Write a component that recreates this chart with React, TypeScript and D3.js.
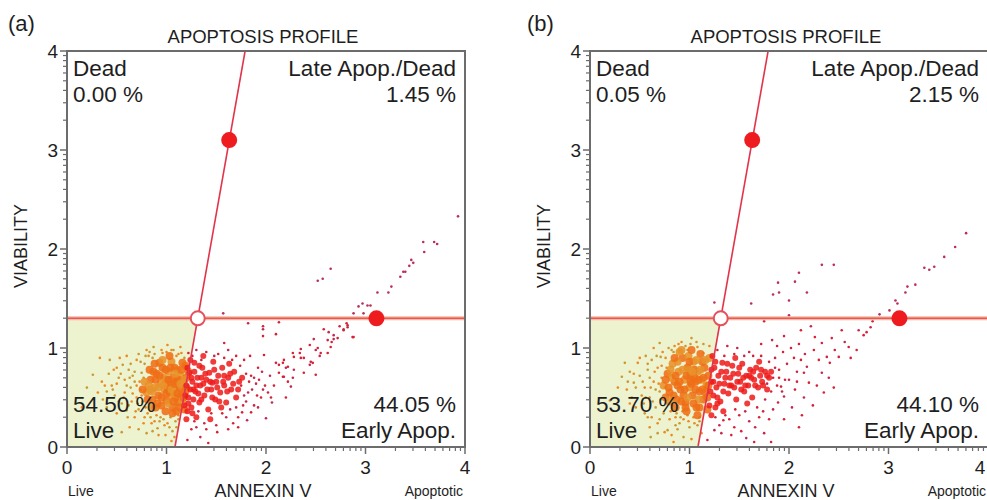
import * as d3 from "d3";

// quadrant texts, panel (a) then (b)
const panelLabels = ["(a)", "(b)"];
const deadPct = ["0.00 %", "0.05 %"];
const latePct = ["1.45 %", "2.15 %"];
const livePct = ["54.50 %", "53.70 %"];
const earlyPct = ["44.05 %", "44.10 %"];
const axisTicks = [0, 1, 2, 3, 4];

// gate settings (same on both panels)
const gateY = 1.3;
const slantLine = [[1.085, 0], [1.79, 4]];
const gateHandles = [[1.63, 3.1], [3.11, 1.3]];

// ---- panel (a) events
const liveCoreA = [[0.80,0.55],[0.84,0.68],[0.86,0.48],[0.88,0.60],[0.90,0.74],[0.92,0.52],[0.94,0.64],[0.95,0.42],[0.96,0.80],[0.98,0.58],[1.00,0.68],[1.00,0.47],[1.02,0.76],[1.03,0.55],[1.04,0.63],[1.05,0.86],[1.06,0.40],[1.07,0.70],[1.08,0.58],[1.09,0.50],[1.10,0.66],[1.11,0.78],[1.12,0.45],[1.13,0.60],[1.14,0.72],[1.15,0.53],[1.16,0.85],[1.17,0.64],[1.18,0.38],[1.19,0.56],[0.82,0.62],[0.87,0.76],[0.91,0.44],[0.97,0.70],[0.99,0.36],[1.01,0.60],[1.06,0.52],[1.08,0.80],[1.12,0.68],[1.16,0.46],[0.93,0.85],[1.03,0.92],[0.85,0.40],[1.10,0.36],[1.20,0.70],
  [0.78,0.66],[0.81,0.48],[0.83,0.78],[0.86,0.56],[0.89,0.68],[0.89,0.40],[0.92,0.60],[0.93,0.72],[0.95,0.50],[0.97,0.62],[0.99,0.78],[1.00,0.54],[1.02,0.44],[1.02,0.68],[1.04,0.80],[1.05,0.58],[1.07,0.46],[1.08,0.64],[1.09,0.74],[1.11,0.54],[1.13,0.40],[1.14,0.64],[1.15,0.78],[1.17,0.50],[1.18,0.68],[1.19,0.82],[1.20,0.60],[0.96,0.88],[1.06,0.34],[0.88,0.84],[0.84,0.58],[0.76,0.58],[1.22,0.76]];
const liveScatterA = [[0.26,0.73],[0.33,0.90],[0.43,0.88],[0.53,0.90],[0.56,0.83],[0.31,0.55],[0.40,0.40],[0.50,0.34],[0.60,0.37],[0.80,0.98],[0.87,1.01],[1.01,1.03],[1.07,0.98],[1.14,1.01],[0.61,0.30],[0.77,0.24],[0.91,0.19],[1.01,0.24],[0.80,0.14],[0.45,0.62],[0.52,0.70],[0.58,0.55],[0.62,0.78],[0.65,0.46],[0.68,0.66],[0.70,0.88],[0.72,0.38],[0.74,0.58],[0.75,0.75],[0.78,0.30],[0.64,0.60],[0.70,0.50],[0.72,0.94],[0.76,0.46],[0.78,0.84],[0.82,0.92],[0.84,0.30],[0.88,0.26],[0.94,0.30],[0.96,0.95],[1.04,0.30],[1.10,0.92],[1.12,0.28],[1.15,0.95],[0.66,0.72],[0.58,0.68],[0.48,0.52],[0.38,0.62],[0.55,0.44],[0.68,0.30],[0.86,0.90],[0.98,0.22],[1.06,0.16],[0.92,0.12],[1.18,0.90],[0.60,0.92],[0.42,0.74],[0.50,0.80],[0.36,0.48],[0.63,0.20],[0.72,0.18],[1.08,0.10],[0.20,0.60],[0.15,0.40],[0.55,0.15],[1.05,0.06],
  [0.46,0.58],[0.50,0.64],[0.54,0.74],[0.57,0.50],[0.60,0.62],[0.62,0.42],[0.64,0.84],[0.66,0.54],[0.68,0.76],[0.70,0.62],[0.71,0.44],[0.73,0.66],[0.74,0.86],[0.75,0.52],[0.77,0.70],[0.79,0.40],[0.79,0.92],[0.81,0.34],[0.83,0.96],[0.85,0.24],[0.88,0.94],[0.90,0.32],[0.93,0.26],[0.95,0.98],[0.97,0.28],[1.00,0.96],[1.03,0.20],[1.05,0.98],[1.09,0.26],[1.12,0.94],[1.10,0.20],[1.12,0.32],[0.52,0.46],[0.47,0.78],[0.40,0.56],[0.35,0.66],[0.63,0.70],[0.69,0.36],[0.86,0.16],[0.99,0.12]];
const earlyCoreA = [[1.20,0.62],[1.22,0.50],[1.23,0.75],[1.25,0.40],[1.26,0.66],[1.28,0.85],[1.29,0.56],[1.31,0.70],[1.33,0.45],[1.34,0.62],[1.36,0.80],[1.38,0.52],[1.40,0.68],[1.42,0.38],[1.43,0.75],[1.45,0.58],[1.47,0.86],[1.49,0.48],[1.50,0.66],[1.52,0.72],[1.54,0.55],[1.56,0.80],[1.58,0.62],[1.60,0.45],[1.62,0.70],[1.65,0.58],[1.68,0.76],[1.70,0.50],[1.73,0.66],[1.24,0.88],[1.30,0.30],[1.37,0.92],[1.44,0.28],[1.55,0.40],[1.63,0.84],[1.21,0.36],[1.27,0.58],[1.35,0.70],[1.46,0.65],[1.58,0.72],
  [1.21,0.80],[1.22,0.44],[1.24,0.58],[1.25,0.70],[1.27,0.48],[1.28,0.76],[1.30,0.62],[1.32,0.54],[1.33,0.82],[1.35,0.48],[1.37,0.64],[1.39,0.74],[1.41,0.58],[1.44,0.66],[1.46,0.50],[1.48,0.78],[1.51,0.60],[1.53,0.46],[1.57,0.66],[1.61,0.56],[1.64,0.74],[1.67,0.64],[1.72,0.58],[1.76,0.70],[1.19,0.52],[1.18,0.42],[1.20,0.28],[1.26,0.34]];
const earlyScatterA = [[1.81,0.27],[1.67,0.24],[1.51,0.15],[1.34,0.10],[1.21,0.07],[1.42,0.04],[2.00,0.29],[2.20,0.50],[1.98,0.93],[1.82,0.55],[1.85,0.72],[1.88,0.42],[1.90,0.64],[1.92,0.80],[1.95,0.50],[1.97,0.58],[1.78,0.88],[1.76,0.35],[1.80,0.46],[1.84,0.92],[1.72,0.20],[1.60,0.30],[1.50,0.22],[1.40,0.18],[1.30,0.20],[1.25,0.18],[1.22,0.95],[1.30,0.98],[1.40,0.96],[1.52,0.94],[1.62,0.98],[1.70,0.92],[1.58,1.05],[2.04,0.72],[2.08,0.62],[2.10,0.85],[2.06,0.45],[2.13,0.83],[2.22,0.81],[2.28,0.78],[2.17,0.71],[2.22,0.66],[2.25,0.61],[2.28,0.91],[2.35,0.90],[2.45,0.86],[2.18,0.88],[2.17,0.85],[2.20,0.80],[2.13,0.75],[2.18,0.71],[2.27,0.70],[2.50,0.73],[2.38,0.75],[2.44,0.83],[2.47,0.85],[2.38,0.90],[2.35,0.99],[2.34,0.95],[2.27,0.95],[2.50,0.98],[2.55,0.95],[2.65,1.01],[2.48,1.09],[2.44,1.03],[2.52,1.00],[2.54,0.92],[2.62,0.95],[2.62,1.08],[2.68,1.09],[2.66,1.06],[2.88,1.11],[2.68,1.13],[2.72,1.10],[2.87,1.11],[2.78,1.18],[2.82,1.23],[2.58,1.19],[2.63,1.16],[2.74,1.22],[2.78,1.19],[2.82,1.21],[2.81,1.25],[1.97,1.22],[1.97,1.19],[1.97,1.12],[2.10,1.14],[1.82,1.25],[2.13,1.26],
  [1.75,0.62],[1.78,0.52],[1.80,0.74],[1.83,0.66],[1.86,0.58],[1.74,0.82],[1.77,0.42],[1.88,0.70],[1.91,0.52],[1.93,0.68],[1.96,0.76],[1.99,0.62],[2.02,0.55],[1.70,0.40],[1.66,0.88],[1.58,0.90],[1.48,0.92],[1.35,0.88],[1.26,0.92],[1.32,0.36],[1.45,0.34],[1.56,0.34],[1.64,0.38],[1.72,0.30],[1.28,0.26],[1.38,0.24],[1.62,0.18],[1.85,0.35],[1.92,0.40],[2.05,0.50]];
const tailA = [[3.93,2.33],[3.58,2.07],[3.69,2.07],[3.72,2.05],[3.59,1.97],[3.46,1.89],[3.48,1.86],[3.44,1.83],[3.38,1.77],[3.40,1.77],[3.35,1.72],[3.26,1.62],[3.23,1.56],[3.12,1.56],[2.65,1.80],[2.57,1.70],[2.52,1.68],[2.97,1.45],[3.02,1.43],[2.93,1.42],[2.88,1.35],[2.98,1.35],[3.05,1.43],[1.57,1.35]];

// ---- panel (b) events
const liveCoreB = [[0.74,0.62],[0.78,0.74],[0.80,0.55],[0.83,0.84],[0.85,0.66],[0.87,0.48],[0.89,0.76],[0.91,0.58],[0.93,0.90],[0.95,0.68],[0.96,0.45],[0.98,0.80],[1.00,0.60],[1.01,0.72],[1.03,0.52],[1.04,0.86],[1.06,0.66],[1.07,0.40],[1.08,0.76],[1.10,0.56],[1.11,0.94],[1.12,0.68],[1.14,0.48],[1.15,0.80],[1.17,0.62],[1.18,0.38],[1.19,0.72],[0.82,0.70],[0.88,0.62],[0.94,0.52],[0.99,0.92],[1.02,0.64],[1.05,0.78],[1.09,0.48],[1.13,0.86],[1.16,0.55],[0.90,0.96],[0.86,0.40],[0.97,0.36],[1.20,0.90],[0.76,0.50],[1.05,0.70],[1.00,0.78],
  [0.76,0.68],[0.79,0.60],[0.81,0.78],[0.84,0.52],[0.86,0.72],[0.88,0.86],[0.90,0.66],[0.92,0.46],[0.93,0.78],[0.95,0.58],[0.97,0.72],[0.98,0.50],[1.00,0.86],[1.01,0.66],[1.03,0.76],[1.04,0.44],[1.06,0.58],[1.07,0.88],[1.09,0.68],[1.10,0.40],[1.11,0.78],[1.13,0.58],[1.14,0.70],[1.16,0.88],[1.18,0.50],[1.19,0.62],[0.92,0.98],[1.02,0.98],[0.85,0.90],[0.80,0.46],[1.08,0.32],[0.96,0.40]];
const liveScatterB = [[0.32,0.71],[0.48,0.85],[0.44,0.65],[0.54,0.44],[0.58,0.30],[0.68,0.24],[0.78,0.17],[0.84,0.05],[0.61,0.10],[0.37,0.58],[0.20,0.47],[0.98,0.98],[0.84,0.96],[1.08,1.01],[0.71,0.91],[1.14,0.95],[0.50,0.72],[0.55,0.60],[0.58,0.78],[0.60,0.50],[0.62,0.88],[0.64,0.66],[0.66,0.40],[0.68,0.80],[0.70,0.56],[0.72,0.70],[0.74,0.34],[0.76,0.90],[0.78,0.44],[0.80,0.28],[0.82,0.98],[0.86,0.30],[0.90,0.24],[0.94,0.28],[1.00,0.20],[1.04,0.30],[1.08,0.22],[1.12,0.14],[1.10,0.26],[1.20,1.02],[0.66,0.58],[0.52,0.52],[0.40,0.76],[0.46,0.40],[0.56,0.92],[0.64,1.00],[0.70,1.05],[0.92,1.06],[1.02,1.10],[0.75,0.15],[0.94,0.10],[1.02,0.08],[0.88,0.18],[0.28,0.60],[0.35,0.85],[0.42,0.50],[0.60,0.70],[0.72,0.82],[0.86,0.22],[0.98,0.32],
  [0.46,0.60],[0.50,0.90],[0.53,0.66],[0.56,0.50],[0.58,0.84],[0.61,0.60],[0.63,0.46],[0.65,0.76],[0.67,0.92],[0.69,0.64],[0.71,0.48],[0.73,0.96],[0.75,0.60],[0.77,0.80],[0.79,1.00],[0.81,0.36],[0.83,0.42],[0.85,1.02],[0.87,0.34],[0.89,1.04],[0.91,0.30],[0.93,0.36],[0.96,1.02],[0.99,0.26],[1.01,1.04],[1.05,0.24],[1.07,1.06],[1.10,0.30],[1.14,1.04],[0.44,0.74],[0.38,0.66],[0.40,0.44],[0.55,0.34],[0.62,0.30],[0.70,0.28],[0.60,0.20],[0.68,0.14],[0.82,0.12]];
const earlyCoreB = [[1.22,0.66],[1.24,0.52],[1.25,0.80],[1.27,0.60],[1.29,0.72],[1.31,0.46],[1.33,0.85],[1.35,0.64],[1.37,0.76],[1.39,0.54],[1.41,0.70],[1.43,0.82],[1.45,0.60],[1.47,0.48],[1.49,0.74],[1.51,0.66],[1.53,0.84],[1.55,0.56],[1.57,0.72],[1.59,0.62],[1.61,0.78],[1.63,0.50],[1.65,0.68],[1.67,0.80],[1.69,0.60],[1.71,0.72],[1.73,0.66],[1.76,0.76],[1.78,0.58],[1.80,0.70],[1.26,0.40],[1.34,0.36],[1.46,0.90],[1.58,0.44],[1.70,0.86],[1.23,0.92],[1.40,0.62],[1.52,0.58],[1.62,0.70],
  [1.21,0.56],[1.22,0.78],[1.24,0.66],[1.26,0.86],[1.28,0.50],[1.30,0.64],[1.32,0.76],[1.34,0.56],[1.36,0.70],[1.38,0.84],[1.42,0.62],[1.44,0.74],[1.48,0.66],[1.50,0.80],[1.54,0.70],[1.56,0.62],[1.60,0.72],[1.64,0.76],[1.66,0.62],[1.72,0.78],[1.74,0.62],[1.78,0.72],[1.82,0.76],[1.20,0.42],[1.22,0.32],[1.28,0.44]];
const earlyScatterB = [[1.75,0.14],[1.65,0.05],[1.82,0.05],[1.57,0.09],[1.45,0.20],[1.34,0.27],[1.25,0.17],[1.18,0.07],[2.13,0.32],[2.00,0.68],[1.92,0.61],[2.06,0.58],[1.95,0.51],[1.89,0.45],[2.26,1.11],[2.33,1.05],[2.43,1.10],[2.46,0.98],[2.38,0.91],[2.30,0.88],[2.25,0.98],[2.18,0.81],[2.15,0.75],[2.20,0.65],[2.33,0.75],[2.41,0.85],[2.50,0.91],[2.56,1.06],[2.60,1.01],[2.53,1.18],[2.82,1.21],[2.78,1.16],[2.75,1.13],[2.70,1.18],[2.84,1.27],[1.75,1.27],[1.86,0.90],[1.90,0.78],[1.94,0.96],[1.98,0.84],[2.02,1.00],[2.05,0.90],[2.08,0.76],[2.10,1.04],[1.88,1.02],[1.84,0.38],[1.80,0.28],[1.70,0.30],[1.60,0.26],[1.50,0.32],[1.40,0.28],[1.30,0.22],[1.28,0.98],[1.38,1.02],[1.48,1.00],[1.60,0.96],[1.72,1.04],[1.83,1.08],[1.95,1.12],[2.12,1.18],[2.22,1.22],[2.62,0.90],[2.68,0.98],[2.40,0.70],[2.28,0.62],[2.35,0.55],[2.15,0.50],[2.24,0.42],[2.45,0.60],[2.03,0.40],[1.95,0.28],[2.10,0.20],
  [1.78,0.64],[1.82,0.56],[1.84,0.70],[1.86,0.80],[1.88,0.62],[1.90,0.70],[1.93,0.56],[1.96,0.68],[1.80,0.86],[1.76,0.48],[1.72,0.92],[1.64,0.92],[1.55,0.92],[1.45,0.94],[1.35,0.92],[1.26,0.30],[1.36,0.32],[1.46,0.38],[1.56,0.36],[1.68,0.40],[1.74,0.36],[1.32,0.14],[1.42,0.12],[1.52,0.16],[1.66,0.20],[2.08,0.66],[2.12,0.88],[2.16,0.94]];
const tailB = [[3.78,2.16],[3.67,2.02],[3.56,1.92],[3.41,1.79],[3.46,1.82],[3.36,1.81],[3.27,1.64],[3.19,1.62],[3.17,1.56],[3.07,1.48],[3.09,1.45],[3.01,1.38],[2.91,1.34],[2.33,1.84],[2.45,1.84],[2.10,1.76],[2.06,1.67],[2.18,1.56],[2.00,1.48],[1.90,1.56],[1.84,1.54],[1.89,1.66],[1.62,1.45],[1.34,1.33],[1.25,1.46],[2.00,1.33]];

const panels = [
  { left: 67, labelX: 8, liveCore: liveCoreA, liveScatter: liveScatterA, earlyCore: earlyCoreA, earlyScatter: earlyScatterA, tail: tailA },
  { left: 590, labelX: 527, liveCore: liveCoreB, liveScatter: liveScatterB, earlyCore: earlyCoreB, earlyScatter: earlyScatterB, tail: tailB },
];

const PAGE_W = 987;
const W = 398;
const H = 396;
const TOP = 51;
const FONT = "'Liberation Sans', Arial, sans-serif";
const txt = "#1e1e1e";
const frame = "#6c6c6c";

const x = d3.scaleLinear().domain([0, 4]).range([0, W]);
const y = d3.scaleLinear().domain([0, 4]).range([H, 0]);

// log-decade ticks like the instrument software
const minorTicks = d3.range(0, 4).flatMap((d) => d3.range(2, 10).map((k) => d + Math.log10(k)));

function Panel({ p, i }: { p: any; i: number }) {
  const slantAt = (v: number) =>
    slantLine[0][0] + ((slantLine[1][0] - slantLine[0][0]) * (v - slantLine[0][1])) / (slantLine[1][1] - slantLine[0][1]);
  const livePoly = [[0, 0], [slantLine[0][0], 0], [slantAt(gateY), gateY], [0, gateY]];
  const line = d3.line<number[]>().x((d) => x(d[0])).y((d) => y(d[1]));
  // keep the last tick label inside the page (right panel runs to the edge)
  const labelX = (t: number) => Math.min(x(t), PAGE_W - p.left - 7);

  return (
    <g>
      <text x={p.labelX} y={31} fontSize={22} fill={txt} fontFamily={FONT}>{panelLabels[i]}</text>
      <g transform={`translate(${p.left},${TOP})`}>
        <defs>
          <clipPath id={`clip${i}`}>
            <rect x={0} y={0} width={W} height={H} />
          </clipPath>
        </defs>
        <text x={W / 2 - 3} y={-8} textAnchor="middle" fontSize={18.5} fill={txt} fontFamily={FONT}>APOPTOSIS PROFILE</text>
        <rect x={0} y={0} width={W} height={H} fill="#fff" />
        <path d={line(livePoly as any) + "Z"} fill="#edf2cf" />

        <g clipPath={`url(#clip${i})`}>
          {p.liveScatter.map((d: number[], j: number) => (
            <circle key={"ls" + j} cx={x(d[0])} cy={y(d[1])} r={1.3} fill={j % 2 ? "#ea8a22" : "#c99a34"} />
          ))}
          {p.liveCore.map((d: number[], j: number) => (
            <circle key={"lc" + j} cx={x(d[0])} cy={y(d[1])} r={4} fill={j % 3 ? "#ef6e16" : "#e8922a"} opacity={0.88} />
          ))}
          {p.earlyScatter.map((d: number[], j: number) => (
            <circle key={"es" + j} cx={x(d[0])} cy={y(d[1])} r={1.3} fill={j % 3 ? "#d82036" : "#c4284e"} />
          ))}
          {p.earlyCore.map((d: number[], j: number) => (
            <circle key={"ec" + j} cx={x(d[0])} cy={y(d[1])} r={3} fill="#ee1a1a" opacity={0.85} />
          ))}
          {p.tail.map((d: number[], j: number) => (
            <circle key={"t" + j} cx={x(d[0])} cy={y(d[1])} r={1.3} fill="#b8305a" />
          ))}

          {/* gate lines */}
          <line x1={0} x2={W} y1={y(gateY)} y2={y(gateY)} stroke="#f5b9a2" strokeWidth={4} />
          <line x1={0} x2={W} y1={y(gateY)} y2={y(gateY)} stroke="#e6585a" strokeWidth={1.6} />
          <path d={line(slantLine) || ""} stroke="#e2344a" strokeWidth={1.6} fill="none" />
        </g>
        <circle cx={x(slantAt(gateY))} cy={y(gateY)} r={7} fill="#fff" stroke="#e5505a" strokeWidth={2} />
        {gateHandles.map((d, j) => (
          <circle key={"h" + j} cx={x(d[0])} cy={y(d[1])} r={8} fill="#ee1c1e" />
        ))}

        {/* quadrant labels */}
        <g fontSize={22.5} fill={txt} fontFamily={FONT}>
          <text x={6} y={25}>Dead</text>
          <text x={6} y={51}>{deadPct[i]}</text>
          <text x={W - 9} y={25} textAnchor="end">Late Apop./Dead</text>
          <text x={W - 9} y={51} textAnchor="end">{latePct[i]}</text>
          <text x={6} y={H - 35}>{livePct[i]}</text>
          <text x={6} y={H - 9}>Live</text>
          <text x={W - 9} y={H - 35} textAnchor="end">{earlyPct[i]}</text>
          <text x={W - 9} y={H - 9} textAnchor="end">Early Apop.</text>
        </g>

        {/* frame and ticks */}
        <rect x={0} y={0} width={W} height={H} fill="none" stroke={frame} strokeWidth={2} />
        {minorTicks.map((t, j) => (
          <g key={"m" + j} stroke={frame} strokeWidth={1.2}>
            <line x1={x(t)} x2={x(t)} y1={H} y2={H + 4} />
            <line x1={-4} x2={0} y1={y(t)} y2={y(t)} />
          </g>
        ))}
        {axisTicks.map((t) => (
          <g key={"t" + t}>
            <line x1={x(t)} x2={x(t)} y1={H} y2={H + 7} stroke={frame} strokeWidth={1.5} />
            <line x1={-7} x2={0} y1={y(t)} y2={y(t)} stroke={frame} strokeWidth={1.5} />
            <text x={labelX(t)} y={H + 27} textAnchor="middle" fontSize={19} fill={txt} fontFamily={FONT}>{t}</text>
            <text x={-9} y={y(t) + 7} textAnchor="end" fontSize={19} fill={txt} fontFamily={FONT}>{t}</text>
          </g>
        ))}

        <text x={W / 2 - 3} y={H + 50} textAnchor="middle" fontSize={18} fill={txt} fontFamily={FONT}>ANNEXIN V</text>
        <text x={1} y={H + 49} fontSize={14} fill={txt} fontFamily={FONT}>Live</text>
        <text x={W - 2} y={H + 49} textAnchor="end" fontSize={14} fill={txt} fontFamily={FONT}>Apoptotic</text>
        <text transform={`translate(-40,${H / 2 - 3}) rotate(-90)`} textAnchor="middle" fontSize={18} fill={txt} fontFamily={FONT}>VIABILITY</text>
      </g>
    </g>
  );
}

export default function App() {
  return (
    <svg width={PAGE_W} height={500} style={{ position: "absolute", left: 0, top: 0, background: "#fff" }}>
      {panels.map((p, i) => (
        <Panel key={i} p={p} i={i} />
      ))}
    </svg>
  );
}
